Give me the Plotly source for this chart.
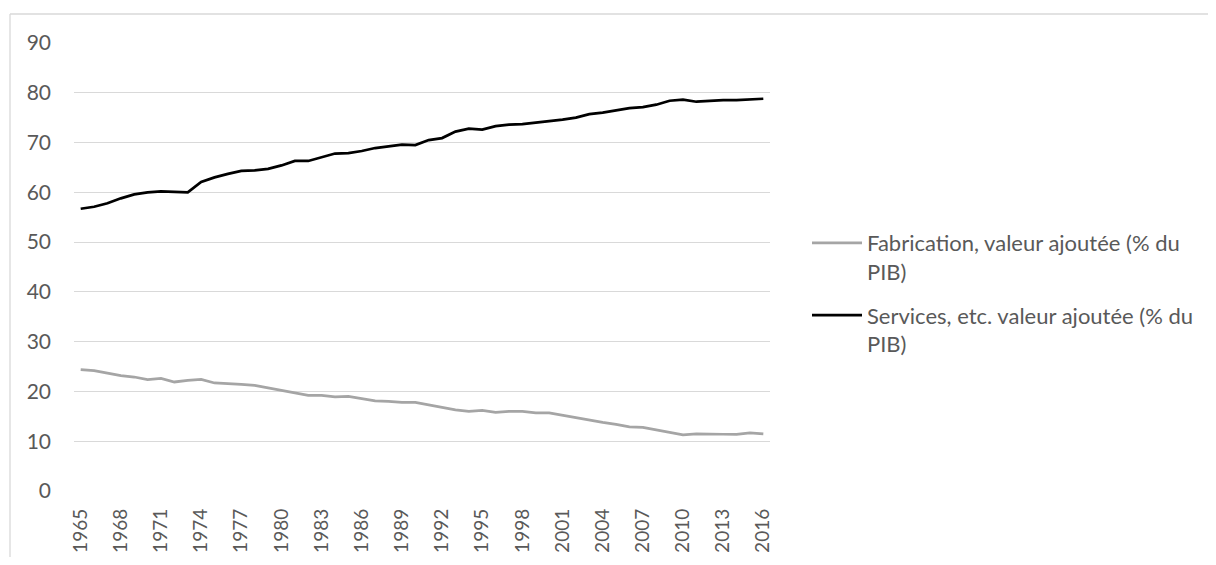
import plotly.graph_objects as go

years = [str(y) for y in range(1965, 2017)]

fabrication = [24.4, 24.2, 23.7, 23.2, 22.9, 22.4, 22.6, 21.9, 22.2, 22.4,
               21.7, 21.6, 21.4, 21.2, 20.7, 20.1, 19.6, 19.2, 19.2, 18.9,
               19.0, 18.6, 18.1, 18.0, 17.8, 17.8, 17.3, 16.8, 16.3, 16.0,
               16.2, 15.8, 16.0, 16.0, 15.7, 15.7, 15.2, 14.7, 14.2, 13.8,
               13.4, 12.9, 12.8, 12.3, 11.7, 11.3, 11.5, 11.4, 11.4, 11.4,
               11.7, 11.5]

services = [56.7, 57.1, 57.8, 58.8, 59.6, 60.0, 60.2, 60.1, 60.0, 62.1,
            63.0, 63.7, 64.3, 64.4, 64.7, 65.4, 66.3, 66.3, 67.1, 67.8,
            67.9, 68.3, 68.9, 69.3, 69.6, 69.5, 70.5, 70.9, 72.2, 72.8,
            72.6, 73.3, 73.6, 73.7, 74.0, 74.2, 74.6, 75.0, 75.7, 76.0,
            76.5, 76.9, 77.1, 77.6, 78.4, 78.6, 78.2, 78.4, 78.5, 78.5,
            78.6, 78.8]

y_ticks = [0, 10, 20, 30, 40, 50, 60, 70, 80, 90]
x_ticks = years[::3]

name_fab = "Fabrication, valeur ajoutée (% du<br>PIB)"
name_srv = "Services, etc. valeur ajoutée (% du<br>PIB)"

FONT = "Lato, 'Open Sans', sans-serif"
TXT = "#595959"

fig = go.Figure()
fig.add_trace(go.Scatter(x=years, y=fabrication, mode="lines", name=name_fab,
                         legendgroup="fab",
                         line=dict(color="#A5A5A5", width=2.75)))
fig.add_trace(go.Scatter(x=years, y=services, mode="lines", name=name_srv,
                         legendgroup="srv",
                         line=dict(color="#000000", width=2.75)))

OFF = 8  # page body margin
W, H = 1216 - 2 * OFF, 565 - 2 * OFF
# plot area in screen pixels: x 74..770, y 43..491
L, T = 74 - OFF, 43 - OFF
pw, ph = 696, 448
R = W - L - pw
B = H - T - ph


def sx(p):
    return (p - OFF - L) / pw


def sy(p):
    return (H - B - (p - OFF)) / ph


fig.update_layout(
    width=W, height=H,
    margin=dict(l=L, r=R, t=T, b=B, pad=0, autoexpand=False),
    paper_bgcolor="white", plot_bgcolor="white",
    font=dict(family=FONT, size=21, color=TXT),
    hovermode=False,
    showlegend=True,
    legend=dict(x=sx(807), y=sy(222), xanchor="left", yanchor="top",
                valign="top",
                font=dict(family=FONT, size=22, color=TXT),
                tracegroupgap=12, itemwidth=50, bgcolor="rgba(0,0,0,0)"),
    xaxis=dict(type="category", tickmode="array", tickvals=x_ticks,
               range=[-0.5, len(years) - 0.5],
               tickangle=-90, showgrid=False, showline=False, zeroline=False,
               ticks="", ticklabelstandoff=13, automargin=False,
               tickfont=dict(family=FONT, size=19, color=TXT)),
    yaxis=dict(range=[0, 90], tickvals=y_ticks, showgrid=True,
               gridcolor="#D9D9D9", gridwidth=1.3, zeroline=False,
               showline=False, ticks="", ticklabelstandoff=22,
               automargin=False,
               tickfont=dict(family=FONT, size=21, color=TXT)),
    shapes=[
        dict(type="line", xref="paper", yref="paper",
             x0=sx(10), x1=sx(10), y0=sy(14), y1=sy(570),
             line=dict(color="#D9D9D9", width=1.3)),
        dict(type="line", xref="paper", yref="paper",
             x0=sx(10), x1=sx(1220), y0=sy(14), y1=sy(14),
             line=dict(color="#D9D9D9", width=1.3)),
    ],
)

fig.write_html("out.html")
